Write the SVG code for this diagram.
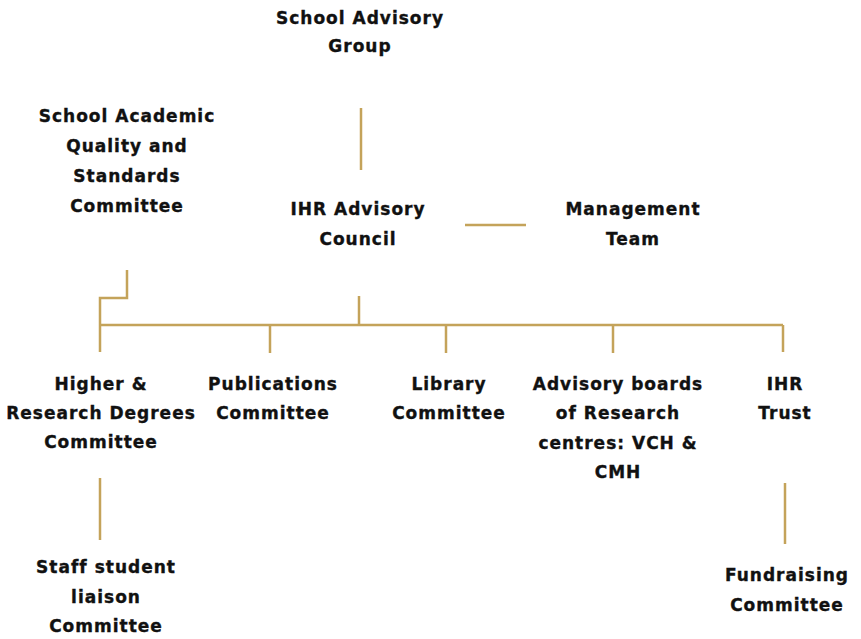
<svg xmlns="http://www.w3.org/2000/svg" width="861" height="639" viewBox="0 0 861 639">
<style>
.t{font-family:"DejaVu Sans",sans-serif;font-weight:bold;font-size:17px;letter-spacing:1px;fill:#111;stroke:#111;stroke-width:0.35;text-anchor:middle}
.c{stroke:#c4a35a;stroke-width:2.5;fill:none}
</style>
<rect width="861" height="639" fill="#fff"/>
<g id="connectors">
<line class="c" x1="361" y1="108" x2="361" y2="170"/>
<line class="c" x1="465" y1="225" x2="526" y2="225"/>
<line class="c" x1="359" y1="296" x2="359" y2="325"/>
<polyline class="c" points="127,270 127,298 100,298 100,352"/>
<line class="c" x1="100" y1="325" x2="783" y2="325"/>
<line class="c" x1="270" y1="325" x2="270" y2="353"/>
<line class="c" x1="446" y1="325" x2="446" y2="353"/>
<line class="c" x1="613" y1="325" x2="613" y2="353"/>
<line class="c" x1="783" y1="325" x2="783" y2="352"/>
<line class="c" x1="100" y1="478" x2="100" y2="540"/>
<line class="c" x1="785" y1="483" x2="785" y2="544"/>
</g>
<g id="school-advisory-group"><text class="t" x="360" y="24">School Advisory</text><text class="t" x="360" y="52">Group</text></g>
<g id="school-academic"><text class="t" x="127" y="122">School Academic</text><text class="t" x="127" y="152">Quality and</text><text class="t" x="127" y="182">Standards</text><text class="t" x="127" y="212">Committee</text></g>
<g id="ihr-advisory-council"><text class="t" x="358" y="215">IHR Advisory</text><text class="t" x="358" y="245">Council</text></g>
<g id="management-team"><text class="t" x="633" y="215">Management</text><text class="t" x="633" y="245">Team</text></g>
<g id="higher-research"><text class="t" x="101" y="390">Higher &amp;</text><text class="t" x="101" y="419">Research Degrees</text><text class="t" x="101" y="448">Committee</text></g>
<g id="publications"><text class="t" x="273" y="390">Publications</text><text class="t" x="273" y="419">Committee</text></g>
<g id="library"><text class="t" x="449" y="390">Library</text><text class="t" x="449" y="419">Committee</text></g>
<g id="advisory-boards"><text class="t" x="618" y="390">Advisory boards</text><text class="t" x="618" y="419">of Research</text><text class="t" x="618" y="449">centres: VCH &amp;</text><text class="t" x="618" y="478">CMH</text></g>
<g id="ihr-trust"><text class="t" x="785" y="390">IHR</text><text class="t" x="785" y="419">Trust</text></g>
<g id="staff-student"><text class="t" x="106" y="573">Staff student</text><text class="t" x="106" y="603">liaison</text><text class="t" x="106" y="632">Committee</text></g>
<g id="fundraising"><text class="t" x="787" y="581">Fundraising</text><text class="t" x="787" y="611">Committee</text></g>
</svg>
